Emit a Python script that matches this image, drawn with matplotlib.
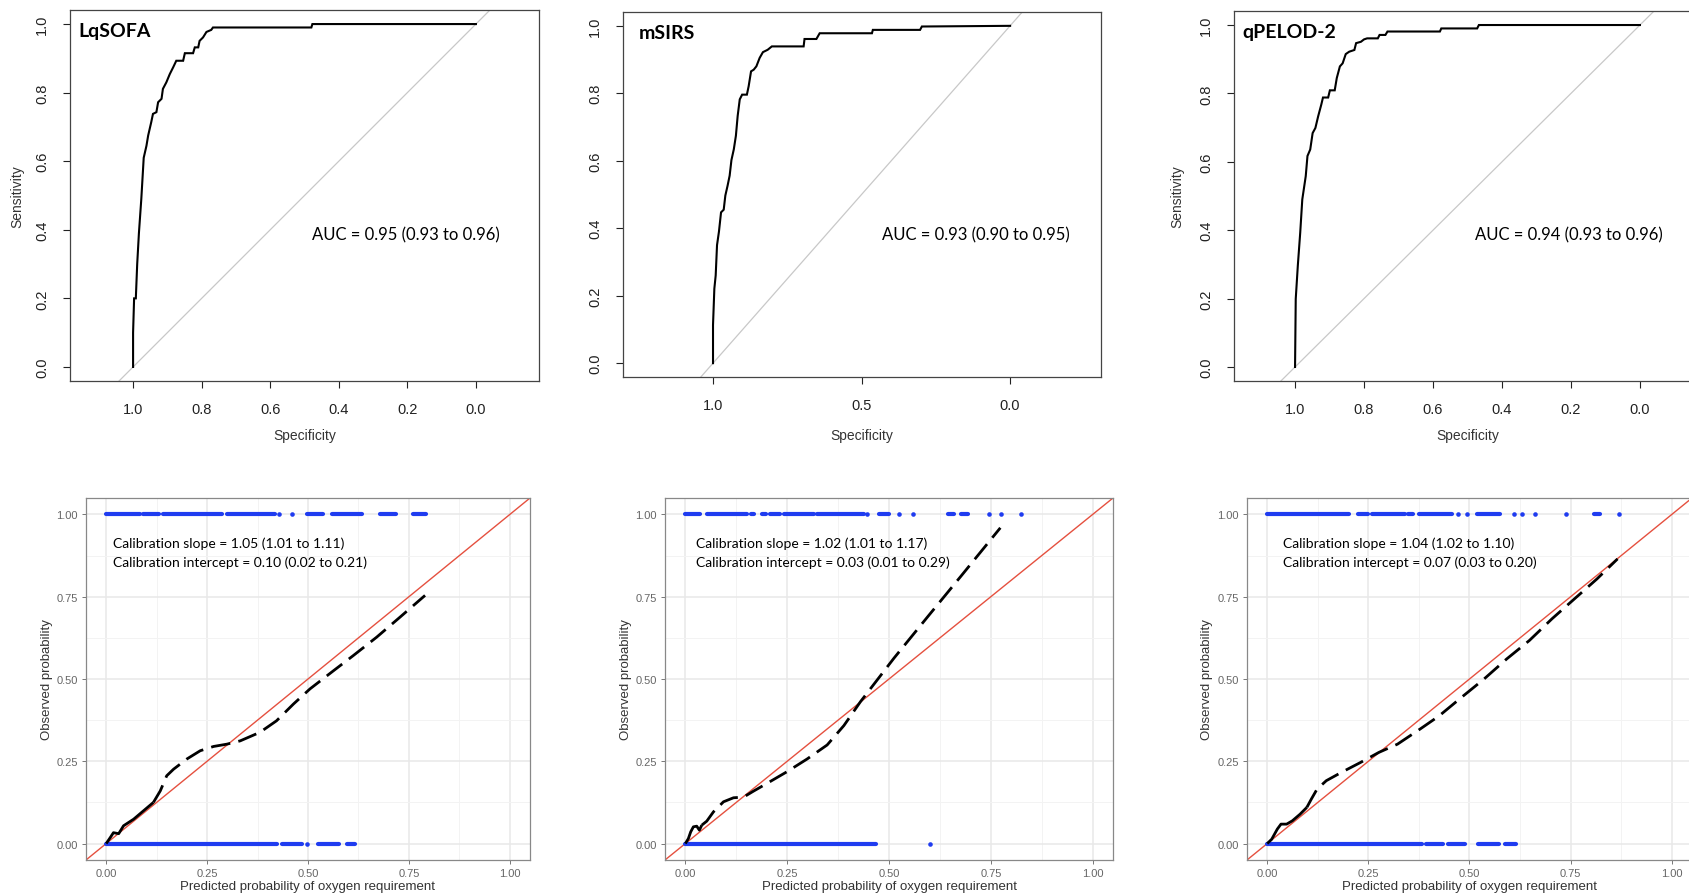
import matplotlib.pyplot as plt
import numpy as np

W, H = 1690, 895

# ---------------- ROC curves (specificity, sensitivity) ----------------
lqsofa_spec = [1.0, 1.0, 0.997, 0.992, 0.988, 0.983, 0.976, 0.969, 0.961, 0.956, 0.947, 0.942,
               0.932, 0.927, 0.917, 0.913, 0.903, 0.893, 0.883, 0.874, 0.854, 0.849, 0.825, 0.820,
               0.810, 0.806, 0.796, 0.786, 0.772, 0.767, 0.480, 0.477, 0.0]
lqsofa_sens = [0.0, 0.10, 0.20, 0.20, 0.30, 0.39, 0.49, 0.61, 0.645, 0.675, 0.714, 0.738,
               0.743, 0.772, 0.782, 0.811, 0.830, 0.854, 0.874, 0.893, 0.893, 0.915, 0.915, 0.932,
               0.932, 0.951, 0.961, 0.977, 0.983, 0.990, 0.990, 1.0, 1.0]

msirs_spec = [1.0, 1.0, 0.9955, 0.991, 0.9865, 0.980, 0.973, 0.964, 0.9585, 0.951, 0.944, 0.938,
              0.930, 0.923, 0.917, 0.910, 0.902, 0.886, 0.880, 0.872, 0.863, 0.854, 0.843, 0.832,
              0.816, 0.802, 0.695, 0.692, 0.652, 0.641, 0.465, 0.462, 0.303, 0.297, 0.0]
msirs_sens = [0.0, 0.113, 0.221, 0.26, 0.35, 0.39, 0.447, 0.455, 0.497, 0.526, 0.556, 0.602,
              0.634, 0.674, 0.733, 0.782, 0.796, 0.796, 0.821, 0.865, 0.870, 0.880, 0.905, 0.922,
              0.929, 0.939, 0.939, 0.961, 0.961, 0.978, 0.978, 0.988, 0.988, 0.998, 1.0]

qpelod_spec = [1.0, 0.998, 0.992, 0.985, 0.979, 0.969, 0.964, 0.956, 0.949, 0.941, 0.933, 0.924,
               0.919, 0.904, 0.899, 0.885, 0.879, 0.870, 0.862, 0.853, 0.843, 0.828, 0.823, 0.809,
               0.800, 0.791, 0.760, 0.755, 0.738, 0.732, 0.580, 0.576, 0.472, 0.467, 0.0]
qpelod_sens = [0.0, 0.199, 0.296, 0.393, 0.490, 0.558, 0.617, 0.636, 0.684, 0.699, 0.733, 0.767,
               0.788, 0.788, 0.809, 0.809, 0.845, 0.879, 0.888, 0.915, 0.922, 0.927, 0.947, 0.951,
               0.958, 0.961, 0.961, 0.971, 0.971, 0.981, 0.981, 0.990, 0.990, 1.0, 1.0]

roc_names = ["LqSOFA", "mSIRS", "qPELOD-2"]
auc_labels = ["AUC = 0.95 (0.93 to 0.96)", "AUC = 0.93 (0.90 to 0.95)", "AUC = 0.94 (0.93 to 0.96)"]
roc_ticks_fine = [1.0, 0.8, 0.6, 0.4, 0.2, 0.0]
roc_ticks_coarse = [1.0, 0.5, 0.0]

# ---------------- calibration curves ----------------
cal1_x = [0.0, 0.010, 0.018, 0.031, 0.043, 0.068, 0.092, 0.117, 0.134, 0.150, 0.167, 0.200, 0.233,
          0.266, 0.299, 0.332, 0.381, 0.422, 0.464, 0.505, 0.563, 0.612, 0.670, 0.728, 0.790]
cal1_y = [0.0, 0.018, 0.033, 0.030, 0.054, 0.074, 0.099, 0.125, 0.160, 0.206, 0.226, 0.257, 0.282,
          0.295, 0.302, 0.312, 0.338, 0.373, 0.424, 0.470, 0.525, 0.571, 0.627, 0.688, 0.754]
cal2_x = [0.0, 0.0074, 0.0131, 0.0197, 0.0279, 0.0345, 0.0402, 0.0525, 0.069, 0.0936, 0.1182,
          0.1429, 0.1675, 0.2003, 0.2496, 0.2989, 0.3481, 0.3892, 0.4302, 0.5123, 0.5944, 0.6765, 0.7734]
cal2_y = [0.0, 0.0152, 0.0355, 0.0508, 0.0528, 0.0406, 0.0558, 0.068, 0.0964, 0.1269, 0.1391,
          0.1411, 0.1594, 0.1827, 0.2183, 0.2569, 0.2995, 0.3584, 0.4315, 0.5635, 0.6883, 0.8122, 0.9594]
cal3_x = [0.0, 0.011, 0.025, 0.034, 0.048, 0.062, 0.081, 0.098, 0.109, 0.123, 0.146, 0.183, 0.230,
          0.276, 0.322, 0.378, 0.425, 0.480, 0.536, 0.592, 0.648, 0.704, 0.759, 0.815, 0.866]
cal3_y = [0.0, 0.013, 0.044, 0.059, 0.059, 0.069, 0.089, 0.110, 0.135, 0.165, 0.191, 0.216, 0.246,
          0.277, 0.302, 0.348, 0.388, 0.444, 0.500, 0.561, 0.617, 0.683, 0.743, 0.804, 0.865]
cal_solid_upto = [7, 6, 7]   # the smoother looks solid near the origin

# observed outcomes (rug of points at 1 and 0): dense stretches + isolated points
obs1_runs_top = [(0.0, 0.084), (0.091, 0.132), (0.142, 0.286), (0.300, 0.418), (0.497, 0.536),
                 (0.559, 0.633), (0.678, 0.719), (0.761, 0.792)]
obs1_dots_top = [0.429, 0.460]
obs1_runs_bot = [(0.0, 0.423), (0.435, 0.485), (0.525, 0.577), (0.596, 0.617)]
obs1_dots_bot = [0.498]

obs2_runs_top = [(0.0, 0.036), (0.053, 0.151), (0.160, 0.168), (0.188, 0.197), (0.209, 0.233),
                 (0.241, 0.315), (0.324, 0.438), (0.475, 0.500), (0.644, 0.660), (0.677, 0.695)]
obs2_dots_top = [0.446, 0.525, 0.558, 0.746, 0.775, 0.823]
obs2_runs_bot = [(0.0, 0.467)]
obs2_dots_bot = [0.600]

obs3_runs_top = [(0.0, 0.202), (0.225, 0.248), (0.259, 0.341), (0.348, 0.360), (0.376, 0.457),
                 (0.518, 0.575), (0.807, 0.822)]
obs3_dots_top = [0.471, 0.494, 0.609, 0.629, 0.662, 0.738, 0.869]
obs3_runs_bot = [(0.0, 0.383), (0.392, 0.434), (0.448, 0.490), (0.520, 0.573), (0.587, 0.615)]
obs3_dots_bot = []

slope_labels = ["Calibration slope = 1.05 (1.01 to 1.11)",
                "Calibration slope = 1.02 (1.01 to 1.17)",
                "Calibration slope = 1.04 (1.02 to 1.10)"]
intercept_labels = ["Calibration intercept = 0.10 (0.02 to 0.21)",
                    "Calibration intercept = 0.03 (0.01 to 0.29)",
                    "Calibration intercept = 0.07 (0.03 to 0.20)"]
cal_ticks = [0.0, 0.25, 0.5, 0.75, 1.0]

fig = plt.figure(figsize=(W / 100, H / 100), dpi=100)


def add_px_axes(x0, y0, x1, y1):
    return fig.add_axes([x0 / W, 1 - y1 / H, (x1 - x0) / W, (y1 - y0) / H])


def ftext(x, y, s, **kw):
    fig.text(x / W, 1 - y / H, s, **kw)


def roc_panel(box, xlim, xticks, spec, sens, name, name_x, auc, auc_xy, ylab_x, show_ylab=True):
    ax = add_px_axes(*box)
    ax.axline((1, 0), (0, 1), color='#c8c8c8', lw=0.9, zorder=1)
    ax.plot(spec, sens, color='black', lw=1.5, zorder=3, solid_joinstyle='miter')
    ax.set_xlim(xlim)
    ax.set_ylim(-0.041, 1.041)
    ax.set_xticks(xticks)
    ax.set_xticklabels([f"{t:.1f}" for t in xticks])
    yt = [0.0, 0.2, 0.4, 0.6, 0.8, 1.0]
    ax.set_yticks(yt)
    ax.set_yticklabels([f"{t:.1f}" for t in yt], rotation=90, va='center')
    ax.tick_params(direction='out', length=5, width=0.8, pad=10, labelsize=10.5,
                   colors='#222222', labelfontfamily='Liberation Sans')
    for s in ax.spines.values():
        s.set_color('#444444')
        s.set_linewidth(0.9)
    ax.text(name_x, 0.945, name, transform=ax.transAxes, fontsize=14, fontweight='bold',
            family='Lato', ha='left', va='center')
    ax.text(auc_xy[0], auc_xy[1], auc, fontsize=12, family='Lato', ha='left', va='center')
    xc = (box[0] + box[2]) / 2
    ftext(xc, 436, "Specificity", ha='center', va='center', fontsize=10,
          family='Liberation Sans', color='#333333')
    if show_ylab:
        ftext(ylab_x, (box[1] + box[3]) / 2, "Sensitivity", ha='center', va='center',
              rotation=90, fontsize=10, family='Liberation Sans', color='#333333')
    return ax


def cal_panel(box, cx, cy, solid_n, runs_top, dots_top, runs_bot, dots_bot, t1, t2, tx, ylab_x):
    ax = add_px_axes(*box)
    ax.set_xlim(-0.05, 1.05)
    ax.set_ylim(-0.05, 1.05)
    ax.set_xticks(cal_ticks)
    ax.set_yticks(cal_ticks)
    ax.set_xticklabels([f"{t:.2f}" for t in cal_ticks])
    ax.set_yticklabels([f"{t:.2f}" for t in cal_ticks])
    minor = [0.125, 0.375, 0.625, 0.875]
    ax.set_xticks(minor, minor=True)
    ax.set_yticks(minor, minor=True)
    ax.grid(which='major', color='#e8e8e8', lw=1.1)
    ax.grid(which='minor', color='#f3f3f3', lw=0.7)
    ax.set_axisbelow(True)
    ax.tick_params(which='major', direction='out', length=3, width=0.7, pad=3, labelsize=8,
                   colors='#777777', labelcolor='#666666', labelfontfamily='Liberation Sans')
    ax.tick_params(which='minor', length=0)
    for s in ax.spines.values():
        s.set_color('#888888')
        s.set_linewidth(0.9)
    ax.axline((0, 0), (1, 1), color='#e5503f', lw=1.0, zorder=2)
    blue = '#1f3cf0'
    for a, b in runs_top:
        ax.plot([a, b], [1.0, 1.0], color=blue, lw=3.0, solid_capstyle='round', zorder=3)
    for a, b in runs_bot:
        ax.plot([a, b], [0.0, 0.0], color=blue, lw=3.0, solid_capstyle='round', zorder=3)
    ax.plot(dots_top, [1.0] * len(dots_top), 'o', color=blue, ms=3.3, mew=0, zorder=3)
    ax.plot(dots_bot, [0.0] * len(dots_bot), 'o', color=blue, ms=3.3, mew=0, zorder=3)
    ax.plot(cx[:solid_n + 1], cy[:solid_n + 1], color='black', lw=2.0, zorder=4,
            solid_capstyle='butt')
    ax.plot(cx[solid_n:], cy[solid_n:], color='black', lw=2.0, zorder=4,
            linestyle=(0, (7, 3)), dash_capstyle='butt')
    ax.text(tx, 0.915, t1, fontsize=10, family='Lato', ha='left', va='center')
    ax.text(tx, 0.857, t2, fontsize=10, family='Lato', ha='left', va='center')
    xc = (box[0] + box[2]) / 2
    ftext(xc, 887, "Predicted probability of oxygen requirement", ha='center', va='center',
          fontsize=9.5, family='Liberation Sans', color='#333333')
    ftext(ylab_x, (box[1] + box[3]) / 2, "Observed probability", ha='center', va='center',
          rotation=90, fontsize=9.5, family='Liberation Sans', color='#333333')
    return ax


roc_panel((70, 11, 539, 382), (1.184, -0.184), roc_ticks_fine, lqsofa_spec, lqsofa_sens,
          roc_names[0], 0.017, auc_labels[0], (0.478, 0.388), 17)
roc_panel((623, 13, 1101, 378), (1.303, -0.306), roc_ticks_coarse, msirs_spec, msirs_sens,
          roc_names[1], 0.033, auc_labels[1], (0.431, 0.383), 577, show_ylab=False)
roc_panel((1234, 12, 1701, 382), (1.177, -0.177), roc_ticks_fine, qpelod_spec, qpelod_sens,
          roc_names[2], 0.019, auc_labels[2], (0.478, 0.388), 1177)

cal_panel((86, 499, 530, 861), cal1_x, cal1_y, cal_solid_upto[0], obs1_runs_top, obs1_dots_top,
          obs1_runs_bot, obs1_dots_bot, slope_labels[0], intercept_labels[0], 0.017, 47)
cal_panel((665, 499, 1113, 861), cal2_x, cal2_y, cal_solid_upto[1], obs2_runs_top, obs2_dots_top,
          obs2_runs_bot, obs2_dots_bot, slope_labels[1], intercept_labels[1], 0.025, 626)
cal_panel((1247, 499, 1692, 861), cal3_x, cal3_y, cal_solid_upto[2], obs3_runs_top, obs3_dots_top,
          obs3_runs_bot, obs3_dots_bot, slope_labels[2], intercept_labels[2], 0.040, 1207)

plt.savefig('out.png', dpi=100)
plt.close()
